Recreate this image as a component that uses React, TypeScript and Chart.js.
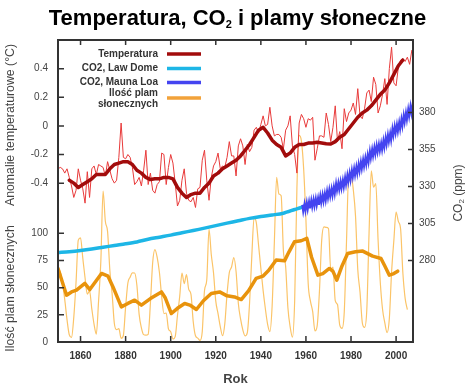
import React, { useEffect, useRef } from 'react';
import { Chart, registerables } from 'chart.js';
Chart.register(...registerables);

const FONT = '"Liberation Sans", Arial, Helvetica, sans-serif';

// ---- axis ticks ----
const yearTicks = [1860, 1880, 1900, 1920, 1940, 1960, 1980, 2000];
const tempTicks = [-0.4, -0.2, 0, 0.2, 0.4];
const tempTickLabels = ['-0.4', '-0.2', '0', '0.2', '0.4'];
const sunTicks = [0, 25, 50, 75, 100];
const co2Ticks = [280, 305, 330, 355, 380];

// ---- text ----
const titleParts = ['Temperatura, CO', '2', ' i plamy słoneczne'];
const xTitle = 'Rok';
const tempAxisTitle = 'Anomalie temperaturowe (°C)';
const sunAxisTitle = 'Ilość plam słonecznych';
const co2AxisTitleParts = ['CO', '2', ' (ppm)'];
const legendLabels = ['Temperatura', 'CO2, Law Dome', 'CO2, Mauna Loa', 'Ilość plam', 'słonecznych'];

// ---- data ----
const tempStartYear = 1850;
const tempAnnual = [
  -0.30, -0.29, -0.30, -0.33, -0.30, -0.36, -0.42, -0.50, -0.45, -0.30,
  -0.38, -0.44, -0.54, -0.32, -0.50, -0.30, -0.28, -0.34, -0.27, -0.28,
  -0.29, -0.35, -0.25, -0.31, -0.37, -0.40, -0.38, -0.22, 0.02, -0.22,
  -0.23, -0.20, -0.22, -0.29, -0.41, -0.39, -0.36, -0.42, -0.31, -0.17,
  -0.41, -0.33, -0.45, -0.47, -0.41, -0.39, -0.19, -0.20, -0.41, -0.29,
  -0.20, -0.26, -0.40, -0.56, -0.52, -0.38, -0.30, -0.47, -0.52, -0.53,
  -0.50, -0.57, -0.44, -0.43, -0.24, -0.17, -0.38, -0.52, -0.36, -0.28,
  -0.25, -0.19, -0.30, -0.28, -0.29, -0.22, -0.11, -0.21, -0.21, -0.35,
  -0.14, -0.09, -0.14, -0.27, -0.13, -0.18, -0.15, -0.03, -0.01, -0.05,
  0.01, 0.07, 0.00, 0.01, 0.13, 0.00, -0.07, -0.06, -0.06, -0.08,
  -0.16, -0.03, 0.00, 0.07, -0.14, -0.20, -0.33, 0.02, 0.08, 0.05,
  -0.01, 0.05, 0.04, 0.06, -0.24, -0.16, -0.07, -0.07, -0.08, 0.09,
  0.01, -0.11, -0.01, 0.14, -0.11, -0.04, -0.16, 0.12, 0.03, 0.09,
  0.11, 0.16, 0.08, 0.26, 0.07, 0.05, 0.12, 0.23, 0.25, 0.17,
  0.34, 0.29, 0.09, 0.14, 0.22, 0.33, 0.15, 0.40, 0.55, 0.30,
  0.28, 0.41, 0.46, 0.47, 0.45, 0.48, 0.43, 0.53,
];

const tempSmoothYears = [
  1855, 1857, 1859, 1861, 1863, 1865, 1867, 1869, 1871, 1873, 1875, 1877, 1879,
  1881, 1883, 1885, 1887, 1889, 1891, 1893, 1895, 1897, 1899, 1901, 1903, 1905,
  1907, 1909, 1911, 1913, 1915, 1917, 1919, 1921, 1923, 1925, 1927, 1929, 1931,
  1933, 1935, 1937, 1939, 1941, 1943, 1945, 1947, 1949, 1951, 1953, 1955, 1957,
  1959, 1961, 1963, 1965, 1967, 1969, 1971, 1973, 1975, 1977, 1979, 1981, 1983,
  1985, 1987, 1989, 1991, 1993, 1995, 1997, 1999, 2001, 2003,
];
const tempSmooth = [
  -0.38, -0.40, -0.43, -0.41, -0.39, -0.37, -0.34, -0.34, -0.34, -0.30, -0.27, -0.26, -0.25,
  -0.25, -0.27, -0.31, -0.33, -0.36, -0.375, -0.37, -0.37, -0.36, -0.36, -0.37, -0.43, -0.47,
  -0.50, -0.48, -0.47, -0.47, -0.43, -0.40, -0.35, -0.33, -0.30, -0.28, -0.26, -0.24, -0.21,
  -0.17, -0.13, -0.08, -0.03, -0.01, -0.05, -0.10, -0.13, -0.15, -0.21, -0.19, -0.15, -0.13,
  -0.13, -0.12, -0.12, -0.115, -0.12, -0.125, -0.127, -0.11, -0.08, -0.06, -0.02, 0.02, 0.06,
  0.09, 0.11, 0.14, 0.18, 0.22, 0.25, 0.30, 0.36, 0.42, 0.46,
];

const lawDomeYears = [
  1850, 1855, 1860, 1865, 1870, 1875, 1880, 1885, 1890, 1895, 1900, 1905, 1910,
  1915, 1920, 1925, 1930, 1935, 1940, 1945, 1950, 1955, 1958, 1960, 1962,
];
const lawDomeCO2 = [
  285.4, 286.0, 286.8, 287.8, 289.0, 290.2, 291.3, 292.6, 294.4, 295.8, 297.2, 298.8, 300.3,
  301.9, 303.6, 305.3, 306.9, 308.5, 309.8, 310.8, 312.0, 314.5, 316.0, 317.3, 318.5,
];

const maunaLoaStartYear = 1958;
const maunaLoaMay = [
  317.6, 318.3, 319.2, 319.9, 320.8, 321.3, 321.9, 322.3, 323.7, 324.5,
  325.3, 326.9, 328.0, 328.6, 329.8, 332.0, 332.5, 333.4, 334.3, 336.1,
  337.7, 339.1, 341.0, 342.2, 343.4, 345.1, 346.7, 348.2, 349.5, 351.2,
  353.8, 355.2, 356.5, 357.9, 358.7, 359.4, 361.1, 363.1, 364.9, 366.0,
  369.0, 370.7, 371.9, 373.4, 375.5, 378.1, 379.8, 382.1, 384.2, 386.1,
];
const maunaLoaOct = [
  313.0, 313.7, 314.6, 315.3, 316.2, 316.7, 317.3, 317.7, 319.1, 319.9,
  320.7, 322.3, 323.4, 324.0, 325.2, 327.4, 327.9, 328.8, 329.7, 331.5,
  333.1, 334.5, 336.4, 337.6, 338.8, 340.5, 342.1, 343.6, 344.9, 346.6,
  349.2, 350.6, 351.9, 353.3, 354.1, 354.8, 356.5, 358.5, 360.3, 361.4,
  364.4, 366.1, 367.3, 368.8, 370.9, 373.5, 375.2, 377.5, 379.6, 381.5,
];

const sunStartYear = 1850;
const sunAnnual = [
  66.5, 64.5, 54.2, 39.0, 20.6, 6.7, 4.3, 22.7, 54.8, 93.8,
  95.8, 77.2, 59.1, 44.0, 47.0, 30.5, 16.3, 7.3, 37.6, 74.0,
  139.0, 111.2, 101.6, 66.2, 44.7, 17.0, 11.3, 12.4, 3.4, 6.0,
  32.3, 54.3, 59.7, 63.7, 63.5, 52.2, 25.4, 13.1, 6.8, 6.3,
  7.1, 35.6, 73.0, 85.1, 78.0, 64.0, 41.8, 26.2, 26.7, 12.1,
  9.5, 2.7, 5.0, 24.4, 42.0, 63.5, 53.8, 62.0, 48.5, 43.9,
  18.6, 5.7, 3.6, 1.4, 9.6, 47.4, 57.1, 103.9, 80.6, 63.6,
  37.6, 26.1, 14.2, 5.8, 16.7, 44.3, 63.9, 69.0, 77.8, 64.9,
  35.7, 21.2, 11.1, 5.7, 8.7, 36.1, 79.7, 114.4, 109.6, 88.8,
  67.8, 47.5, 30.6, 16.3, 9.6, 33.2, 92.6, 151.6, 136.3, 134.7,
  83.9, 69.4, 31.5, 13.9, 4.4, 38.0, 141.7, 190.2, 184.8, 159.0,
  112.3, 53.9, 37.6, 27.9, 10.2, 15.1, 47.0, 93.8, 105.9, 105.5,
  104.5, 66.6, 68.9, 38.0, 34.5, 15.5, 12.6, 27.5, 92.5, 155.4,
  154.6, 140.4, 115.9, 66.6, 45.9, 17.9, 13.4, 29.4, 100.2, 157.6,
  142.6, 145.7, 94.3, 54.6, 29.9, 17.5, 8.6, 21.5, 64.3, 93.3,
  119.6, 111.0, 104.0, 63.7, 40.4, 29.8,
];

const sunSmoothYears = [
  1850, 1853.8, 1856, 1858.2, 1861.9, 1864.1, 1869.3, 1872.2, 1874.4, 1878.1, 1881,
  1884, 1887, 1891, 1895.9, 1897.5, 1900.3, 1903, 1906.2, 1908.5, 1911.4, 1914.5,
  1918, 1921.7, 1925, 1928.3, 1931.3, 1934.5, 1937.9, 1940.9, 1943.5, 1946.8, 1950.5,
  1952.5, 1954.9, 1957.9, 1960.4, 1962.5, 1965.3, 1967.5, 1970.4, 1972, 1973.7, 1976,
  1978.5, 1982, 1985.2, 1989.6, 1993.3, 1995, 1997, 1999, 2000.7,
];
const sunSmooth = [
  67.7, 43.1, 46.1, 47.7, 53.9, 48.3, 63.1, 60.6, 50.7, 32.3, 35.5,
  38.5, 33.9, 40, 46.1, 41, 26.2, 31, 35.4, 34, 29.9, 38,
  44.6, 46.1, 42.5, 41.5, 39.1, 47, 58.5, 60.6, 66, 75.4, 74.7,
  83, 92.3, 93.2, 95.4, 78, 61.5, 63, 67.7, 65, 56.9, 70,
  81.5, 83, 83.7, 79, 76.9, 70, 61.5, 63, 65.2,
];

// ---- scale ranges ----
const X_MIN = 1850;
const X_MAX = 2007.5;
const TEMP_MIN = -1.51;
const TEMP_MAX = 0.6;
const SUN_MIN = 0;
const SUN_MAX = 278;
const CO2_MIN = 225;
const CO2_MAX = 429;

// ---- colours ----
const C_TEMP_THIN = '#e83a3a';
const C_TEMP_THICK = '#a20c0c';
const C_LAW = '#1db6e6';
const C_MAUNA = '#4444f0';
const C_SUN_THIN = '#fbc468';
const C_SUN_THICK = '#e8930c';
const C_TEXT = '#333';

const pts = (xs: number[], ys: number[]) => xs.map((x, i) => ({ x, y: ys[i] }));

const framePlugin = {
  id: 'frameTicks',
  afterDatasetsDraw(chart: any) {
    const { ctx, chartArea: a, scales } = chart;
    ctx.save();
    ctx.strokeStyle = '#333';
    ctx.lineWidth = 1.5;
    ctx.beginPath();
    for (const t of yearTicks) {
      const x = scales.x.getPixelForValue(t);
      ctx.moveTo(x, a.bottom);
      ctx.lineTo(x, a.bottom - 6);
      ctx.moveTo(x, a.top);
      ctx.lineTo(x, a.top + 5);
    }
    for (const tk of scales.yT.ticks) {
      const y = scales.yT.getPixelForValue(tk.value);
      ctx.moveTo(a.left, y);
      ctx.lineTo(a.left + 6, y);
    }
    for (const v of co2Ticks) {
      const y = scales.yC.getPixelForValue(v);
      ctx.moveTo(a.right, y);
      ctx.lineTo(a.right - 5, y);
    }
    ctx.stroke();
    ctx.lineWidth = 2;
    ctx.strokeRect(a.left, a.top, a.right - a.left, a.bottom - a.top);
    ctx.restore();
  },
};

const textPlugin = {
  id: 'texts',
  afterDraw(chart: any) {
    const { ctx, chartArea: a } = chart;
    ctx.save();
    ctx.fillStyle = '#000';
    // title with subscript
    const big = `bold 22px ${FONT}`;
    const small = `bold 11px ${FONT}`;
    ctx.font = big;
    const w0 = ctx.measureText(titleParts[0]).width;
    const w2 = ctx.measureText(titleParts[2]).width;
    ctx.font = small;
    const w1 = ctx.measureText(titleParts[1]).width;
    let tx = 237.5 - (w0 + w1 + w2) / 2;
    ctx.textBaseline = 'alphabetic';
    ctx.textAlign = 'left';
    ctx.font = big;
    ctx.fillText(titleParts[0], tx, 25);
    tx += w0;
    ctx.font = small;
    ctx.fillText(titleParts[1], tx, 27.5);
    tx += w1;
    ctx.font = big;
    ctx.fillText(titleParts[2], tx, 25);

    // left axis titles
    ctx.fillStyle = '#444';
    ctx.font = `12.3px ${FONT}`;
    ctx.textAlign = 'center';
    ctx.textBaseline = 'middle';
    ctx.save();
    ctx.translate(11, 125);
    ctx.rotate(-Math.PI / 2);
    ctx.fillText(tempAxisTitle, 0, 0);
    ctx.restore();
    ctx.save();
    ctx.translate(11, 288.5);
    ctx.rotate(-Math.PI / 2);
    ctx.fillText(sunAxisTitle, 0, 0);
    ctx.restore();

    // right axis title
    ctx.save();
    ctx.translate(458, 193);
    ctx.rotate(-Math.PI / 2);
    ctx.textAlign = 'left';
    ctx.textBaseline = 'alphabetic';
    const f12 = `12px ${FONT}`;
    const f8 = `8px ${FONT}`;
    ctx.font = f12;
    const c0 = ctx.measureText(co2AxisTitleParts[0]).width;
    const c2 = ctx.measureText(co2AxisTitleParts[2]).width;
    ctx.font = f8;
    const c1 = ctx.measureText(co2AxisTitleParts[1]).width;
    let rx = -(c0 + c1 + c2) / 2;
    ctx.font = f12;
    ctx.fillText(co2AxisTitleParts[0], rx, 4);
    rx += c0;
    ctx.font = f8;
    ctx.fillText(co2AxisTitleParts[1], rx, 6);
    rx += c1;
    ctx.font = f12;
    ctx.fillText(co2AxisTitleParts[2], rx, 4);
    ctx.restore();

    // legend
    const lx = a.left + 100;
    const l0 = a.left + 109;
    const l1 = a.left + 143;
    const rows = [
      { texts: [legendLabels[0]], ys: [a.top + 14], ly: a.top + 14, color: C_TEMP_THICK },
      { texts: [legendLabels[1]], ys: [a.top + 28.5], ly: a.top + 28.5, color: C_LAW },
      { texts: [legendLabels[2]], ys: [a.top + 42.5], ly: a.top + 42.5, color: C_MAUNA },
      { texts: [legendLabels[3], legendLabels[4]], ys: [a.top + 53.5, a.top + 64.5], ly: a.top + 58, color: '#f2a23a' },
    ];
    ctx.font = `bold 10px ${FONT}`;
    ctx.fillStyle = C_TEXT;
    ctx.textAlign = 'right';
    ctx.textBaseline = 'middle';
    ctx.lineCap = 'butt';
    for (const r of rows) {
      r.texts.forEach((t, i) => ctx.fillText(t, lx, r.ys[i]));
      ctx.strokeStyle = r.color;
      ctx.lineWidth = 3.5;
      ctx.beginPath();
      ctx.moveTo(l0, r.ly);
      ctx.lineTo(l1, r.ly);
      ctx.stroke();
    }
    ctx.restore();
  },
};

export default function App() {
  const ref = useRef<HTMLCanvasElement | null>(null);

  useEffect(() => {
    if (!ref.current) return;
    const tickFont = { family: FONT, size: 10 };
    const chart = new Chart(ref.current, {
      type: 'line',
      data: {
        datasets: [
          {
            data: pts(tempSmoothYears, tempSmooth),
            yAxisID: 'yT',
            borderColor: C_TEMP_THICK,
            borderWidth: 3.5,
            borderJoinStyle: 'round',
            borderCapStyle: 'round',
          },
          {
            data: tempAnnual.map((v, i) => ({ x: tempStartYear + i, y: v })),
            yAxisID: 'yT',
            borderColor: C_TEMP_THIN,
            borderWidth: 1,
          },
          {
            data: maunaLoaMay.flatMap((v, i) => [
              { x: maunaLoaStartYear + i + 0.37, y: v },
              { x: maunaLoaStartYear + i + 0.79, y: maunaLoaOct[i] },
            ]),
            yAxisID: 'yC',
            borderColor: C_MAUNA,
            borderWidth: 2,
          },
          {
            data: pts(lawDomeYears, lawDomeCO2),
            yAxisID: 'yC',
            borderColor: C_LAW,
            borderWidth: 3.5,
            borderCapStyle: 'round',
            tension: 0.3,
          },
          {
            data: pts(sunSmoothYears, sunSmooth),
            yAxisID: 'yS',
            borderColor: C_SUN_THICK,
            borderWidth: 3.5,
            borderJoinStyle: 'round',
            borderCapStyle: 'round',
          },
          {
            data: sunAnnual.map((v, i) => ({ x: sunStartYear + i, y: v })),
            yAxisID: 'yS',
            borderColor: C_SUN_THIN,
            borderWidth: 1.2,
            cubicInterpolationMode: 'monotone',
          },
        ],
      },
      options: {
        responsive: false,
        animation: false,
        devicePixelRatio: 1,
        parsing: false,
        normalized: true,
        layout: { padding: { top: 40, left: 0, right: 0, bottom: 0 } },
        elements: { point: { radius: 0 }, line: { fill: false } },
        plugins: {
          legend: { display: false },
          tooltip: { enabled: false },
          title: { display: false },
        },
        scales: {
          x: {
            type: 'linear',
            min: X_MIN,
            max: X_MAX,
            grid: { display: false, drawTicks: false },
            border: { display: false },
            ticks: {
              font: { ...tickFont, weight: 'bold' },
              color: C_TEXT,
              padding: 8,
              autoSkip: false,
              maxRotation: 0,
              callback: (v: any) => String(v),
            },
            afterBuildTicks: (s: any) => {
              s.ticks = yearTicks.map((v) => ({ value: v }));
            },
            afterFit: (s: any) => {
              s.height = 47;
            },
            title: {
              display: true,
              text: xTitle,
              color: '#444',
              font: { family: FONT, size: 13, weight: 'bold' },
              padding: { top: 0, bottom: 2 },
            },
          },
          yT: {
            type: 'linear',
            position: 'left',
            min: TEMP_MIN,
            max: TEMP_MAX,
            grid: { display: false, drawTicks: false },
            border: { display: false },
            ticks: {
              font: tickFont,
              color: '#444',
              padding: 10,
              autoSkip: false,
              callback: (_v: any, i: number) =>
                i < tempTicks.length ? tempTickLabels[i] : String(sunTicks[i - tempTicks.length]),
            },
            afterBuildTicks: (s: any) => {
              const span = TEMP_MAX - TEMP_MIN;
              s.ticks = [
                ...tempTicks.map((v) => ({ value: v })),
                ...sunTicks.map((v) => ({ value: TEMP_MIN + ((v - SUN_MIN) / (SUN_MAX - SUN_MIN)) * span })),
              ];
            },
            afterFit: (s: any) => {
              s.width = 58;
            },
          },
          yS: {
            type: 'linear',
            display: false,
            min: SUN_MIN,
            max: SUN_MAX,
          },
          yC: {
            type: 'linear',
            position: 'right',
            min: CO2_MIN,
            max: CO2_MAX,
            grid: { display: false, drawTicks: false },
            border: { display: false },
            ticks: {
              font: tickFont,
              color: '#444',
              padding: 6,
              autoSkip: false,
              callback: (v: any) => String(v),
            },
            afterBuildTicks: (s: any) => {
              s.ticks = co2Ticks.map((v) => ({ value: v }));
            },
            afterFit: (s: any) => {
              s.width = 56;
            },
          },
        },
      } as any,
      plugins: [framePlugin, textPlugin],
    });
    return () => chart.destroy();
  }, []);

  return (
    <div style={{ position: 'fixed', left: 0, top: 0, width: 469, height: 389, background: '#fff' }}>
      <canvas ref={ref} width={469} height={389} style={{ width: 469, height: 389, display: 'block' }} />
    </div>
  );
}
